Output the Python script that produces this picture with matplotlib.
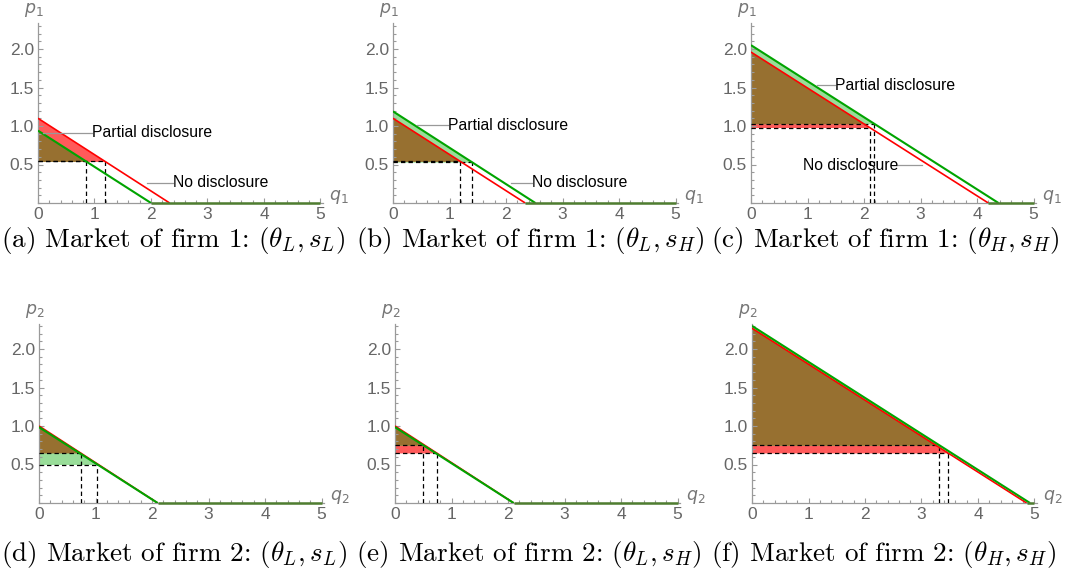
import matplotlib
matplotlib.use("Agg")
import matplotlib.pyplot as plt
from matplotlib.ticker import MultipleLocator, FixedLocator
import numpy as np

# Linear inverse demand p = a * (1 - q / q0), floored at zero.
# "nd" = no disclosure (red), "pd" = partial disclosure (green).
nd_intercept = [1.10, 1.10, 1.96, 1.00, 1.00, 2.27]
nd_zero = [2.33, 2.34, 4.20, 2.10, 2.10, 4.86]
pd_intercept = [0.94, 1.19, 2.05, 0.985, 0.985, 2.30]
pd_zero = [2.00, 2.52, 4.38, 2.10, 2.10, 4.92]
nd_price = [0.54, 0.54, 0.98, 0.65, 0.65, 0.65]
pd_price = [0.54, 0.53, 1.03, 0.50, 0.75, 0.75]

firm = [1, 1, 1, 2, 2, 2]
captions = [
    r"(a) Market of firm 1: $(\theta_L, s_L)$",
    r"(b) Market of firm 1: $(\theta_L, s_H)$",
    r"(c) Market of firm 1: $(\theta_H, s_H)$",
    r"(d) Market of firm 2: $(\theta_L, s_L)$",
    r"(e) Market of firm 2: $(\theta_L, s_H)$",
    r"(f) Market of firm 2: $(\theta_H, s_H)$",
]
x_ticks = [0, 1, 2, 3, 4, 5]
y_ticks = [0.5, 1.0, 1.5, 2.0]
q_max = 5.0

# callouts on the firm-1 panels: (label, leader start, leader end, side)
callouts = {
    0: [("Partial disclosure", (0.09, 0.91), (0.96, 0.91), "left"),
        ("No disclosure", (1.93, 0.26), (2.39, 0.26), "left")],
    1: [("Partial disclosure", (0.42, 1.01), (0.97, 1.01), "left"),
        ("No disclosure", (2.08, 0.26), (2.46, 0.26), "left")],
    2: [("Partial disclosure", (1.17, 1.53), (1.49, 1.53), "left"),
        ("No disclosure", (3.03, 0.49), (2.61, 0.49), "right")],
}

RED = "#ff0000"
GREEN = "#00a400"
RED_FILL = "#ff5a5a"
GREEN_FILL = "#99dd99"
BROWN = "#977030"
FLAT = "#4f7d30"
AXIS_GRAY = "#9a9a9a"
TICK_GRAY = "#666666"
SANS = "Liberation Sans"

W, H = 1065, 576
fig = plt.figure(figsize=(W / 100, H / 100), dpi=100)

# pixel geometry of each panel origin
origins = [(38, 203), (393, 203), (751, 203), (39, 503), (395, 503), (752, 503)]
px_q, px_p = 56.5, 77.0
y_tops = [2.34, 2.34, 2.34, 2.32, 2.32, 2.32]
x_right = 5.05


def demand(a, q0, q):
    return np.maximum(0.0, a * (1.0 - q / q0))


for i in range(6):
    ox, oy = origins[i]
    ytop = y_tops[i]
    rect = [ox / W, (H - oy) / H, x_right * px_q / W, ytop * px_p / H]
    ax = fig.add_axes(rect)
    ax.set_xlim(0, x_right)
    ax.set_ylim(0, ytop)
    for s in ("top", "right"):
        ax.spines[s].set_visible(False)
    for s in ("left", "bottom"):
        ax.spines[s].set_color(AXIS_GRAY)
        ax.spines[s].set_linewidth(0.9)
    ax.xaxis.set_major_locator(FixedLocator(x_ticks))
    ax.xaxis.set_minor_locator(MultipleLocator(0.2))
    ax.yaxis.set_major_locator(FixedLocator(y_ticks))
    ax.yaxis.set_minor_locator(MultipleLocator(0.1))
    ax.set_xticklabels([str(t) for t in x_ticks])
    ax.set_yticklabels([f"{t:.1f}" for t in y_ticks])
    ax.tick_params(which="both", direction="in", color=AXIS_GRAY, width=0.8)
    ax.tick_params(which="major", length=3.5, labelsize=12.5,
                   labelcolor=TICK_GRAY, pad=3)
    ax.tick_params(which="minor", length=2)
    for lab in ax.get_xticklabels() + ax.get_yticklabels():
        lab.set_fontfamily(SANS)

    a_r, q0_r, p_r = nd_intercept[i], nd_zero[i], nd_price[i]
    a_g, q0_g, p_g = pd_intercept[i], pd_zero[i], pd_price[i]
    qs_r = q0_r * (1 - p_r / a_r)
    qs_g = q0_g * (1 - p_g / a_g)

    # consumer surplus areas
    qq_r = np.linspace(0, qs_r, 300)
    ax.fill_between(qq_r, p_r, demand(a_r, q0_r, qq_r), color=RED_FILL, lw=0)
    qq_g = np.linspace(0, qs_g, 300)
    ax.fill_between(qq_g, p_g, demand(a_g, q0_g, qq_g), color=GREEN_FILL, lw=0)
    qq = np.linspace(0, max(qs_r, qs_g), 600)
    lo = np.full_like(qq, max(p_r, p_g))
    hi = np.minimum(demand(a_r, q0_r, qq), demand(a_g, q0_g, qq))
    ax.fill_between(qq, lo, hi, where=hi > lo, color=BROWN, lw=0,
                    interpolate=True)

    # equilibrium guides
    dash = dict(color="black", lw=0.9, ls=(0, (3.5, 2.5)), zorder=3)
    for qs, ps in ((qs_r, p_r), (qs_g, p_g)):
        ax.plot([0, qs], [ps, ps], **dash)
        ax.plot([qs, qs], [0, ps], **dash)

    # demand curves
    q_line_r = np.array([0, q0_r])
    q_line_g = np.array([0, q0_g])
    ax.plot(q_line_r, demand(a_r, q0_r, q_line_r), color=RED, lw=1.2,
            zorder=4, solid_capstyle="butt")
    ax.plot(q_line_g, demand(a_g, q0_g, q_line_g), color=GREEN, lw=1.5,
            zorder=5, solid_capstyle="butt")
    q_flat = min(q0_r, q0_g)
    if q_flat < q_max:
        ax.plot([q_flat, q_max], [0, 0], color=FLAT, lw=1.8, zorder=5,
                clip_on=False, solid_capstyle="butt")

    # axis labels
    ax.annotate(f"$p_{firm[i]}$", xy=(0, 1), xycoords="axes fraction",
                xytext=(-3, 3), textcoords="offset points", ha="center",
                va="bottom", fontsize=12.5, color="#777777",
                math_fontfamily="dejavusans")
    ax.annotate(f"$q_{firm[i]}$", xy=(1, 0), xycoords="axes fraction",
                xytext=(4, -2), textcoords="offset points", ha="left",
                va="bottom", fontsize=12.5, color="#777777",
                math_fontfamily="dejavusans")

    for label, start, end, side in callouts.get(i, []):
        ax.plot([start[0], end[0]], [start[1], end[1]], color="#999999",
                lw=0.9, zorder=6)
        ax.text(end[0], end[1], label, ha=side, va="center", fontsize=11.3,
                family=SANS, color="black", zorder=7)

# sub-captions
cap_x = [1, 356, 711, 1, 356, 711]
cap_y = [240, 240, 240, 555, 555, 555]
for i in range(6):
    fig.text(cap_x[i] / W, 1 - cap_y[i] / H, captions[i], ha="left",
             va="center", fontsize=19.5, family="cmr10", math_fontfamily="cm")

fig.savefig("out.png", dpi=100)
